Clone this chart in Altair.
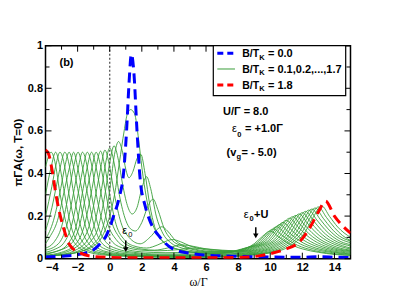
import altair as alt
import pandas as pd

# ---------------- data ----------------
x_major = [-4, -2, 0, 2, 4, 6, 8, 10, 12, 14]
x_minor = [-3, -1, 1, 3, 5, 7, 9, 11, 13, 15]
y_major = [0, 0.2, 0.4, 0.6, 0.8, 1.0]
y_minor = [0.1, 0.3, 0.5, 0.7, 0.9]

blue_b00 = [(-4, 0.008), (-3, 0.012), (-2, 0.019), (-1.6, 0.025), (-1.0, 0.042), (-0.6, 0.07),
            (-0.2, 0.11), (0.24, 0.2), (0.6, 0.29), (0.86, 0.4), (1.05, 0.6), (1.2, 0.82),
            (1.35, 0.96), (1.5, 0.88), (1.7, 0.6), (1.9, 0.37), (2.2, 0.25), (2.52, 0.175),
            (3.14, 0.1), (3.96, 0.045), (5, 0.025), (6, 0.017), (8, 0.011), (10, 0.008),
            (12, 0.007), (13, 0.009), (14, 0.007), (15, 0.005)]

red_b18 = [(-4, 0.51), (-3.8, 0.49), (-3.6, 0.42), (-3.3, 0.28), (-2.9, 0.15), (-2.45, 0.06),
           (-1.85, 0.027), (-1.2, 0.012), (0, 0.006), (2, 0.004), (5, 0.004), (8, 0.006),
           (9.2, 0.012), (10.1, 0.025), (10.85, 0.042), (11.9, 0.085), (12.5, 0.15),
           (13.0, 0.22), (13.45, 0.27), (14.0, 0.2), (14.5, 0.155), (15, 0.12)]

g01 = [(-4,0.012),(-3,0.018),(-2,0.03),(-1,0.06),(-0.5,0.1),(0,0.2),(0.3,0.3),(0.6,0.45),(0.9,0.6),(1.1,0.68),(1.3,0.7),(1.55,0.68),(1.8,0.56),(2.0,0.43),(2.3,0.28),(2.6,0.18),(3.0,0.11),(3.5,0.07),(4.0,0.05),(5.0,0.032),(6.0,0.025),(7.0,0.025),(8.0,0.038),(9.0,0.07),(9.5,0.104),(10.0,0.13),(10.5,0.104),(11.0,0.078),(11.5,0.059),(12.0,0.046),(13.0,0.03),(14.0,0.02),(15.0,0.015)]
g02 = [(-4,0.012),(-3,0.018),(-2,0.03),(-1,0.07),(-0.5,0.13),(-0.2,0.22),(0.05,0.35),(0.3,0.49),(0.55,0.55),(0.8,0.5),(1.0,0.42),(1.2,0.38),(1.45,0.41),(1.7,0.47),(1.94,0.49),(2.2,0.4),(2.5,0.25),(2.8,0.15),(3.2,0.09),(3.7,0.06),(4.5,0.04),(5.5,0.028),(6.5,0.024),(7.2,0.028),(8.2,0.045),(9.2,0.075),(9.7,0.112),(10.2,0.14),(10.7,0.112),(11.2,0.084),(11.7,0.063),(12.2,0.049),(13.2,0.031),(14.2,0.021),(15,0.017)]
g03 = [(-4,0.012),(-3,0.018),(-2,0.035),(-1.2,0.08),(-0.7,0.15),(-0.3,0.3),(0.0,0.45),(0.27,0.53),(0.55,0.46),(0.8,0.35),(1.1,0.25),(1.4,0.21),(1.7,0.24),(2.0,0.33),(2.3,0.385),(2.55,0.33),(2.9,0.2),(3.3,0.12),(3.8,0.075),(4.5,0.05),(5.5,0.033),(6.5,0.027),(7.4,0.03),(8.4,0.048),(9.4,0.08),(9.9,0.12),(10.4,0.15),(10.9,0.12),(11.4,0.09),(11.9,0.068),(12.4,0.053),(13.4,0.034),(14.4,0.024),(15,0.02)]
g04 = [(-4,0.013),(-3,0.02),(-2,0.045),(-1.5,0.075),(-1,0.15),(-0.5,0.33),(-0.25,0.45),(0,0.52),(0.3,0.44),(0.6,0.3),(1.0,0.18),(1.3,0.14),(1.6,0.13),(2.0,0.17),(2.4,0.25),(2.7,0.28),(3.0,0.23),(3.4,0.14),(3.9,0.085),(4.5,0.06),(5.5,0.038),(6.5,0.03),(7.6,0.032),(8.6,0.05),(9.6,0.085),(10.1,0.128),(10.6,0.16),(11.1,0.128),(11.6,0.096),(12.1,0.072),(12.6,0.056),(13.6,0.036),(14.6,0.025),(15,0.022)]
g05 = [(-4,0.015),(-3,0.025),(-2.3,0.045),(-1.8,0.075),(-1.3,0.15),(-0.8,0.33),(-0.55,0.43),(-0.3,0.51),(0.0,0.43),(0.3,0.3),(0.7,0.17),(1.2,0.1),(1.9,0.07),(2.5,0.1),(3.0,0.14),(3.25,0.15),(3.6,0.13),(4.1,0.085),(4.8,0.055),(5.5,0.042),(6.5,0.033),(7.8,0.034),(8.8,0.052),(9.8,0.09),(10.3,0.136),(10.8,0.17),(11.3,0.136),(11.8,0.102),(12.3,0.077),(12.8,0.06),(13.8,0.038),(15,0.026)]
g06 = [(-4,0.017),(-3,0.03),(-2.1,0.07),(-1.6,0.15),(-1.1,0.33),(-0.85,0.43),(-0.57,0.505),(-0.3,0.43),(0.0,0.3),(0.4,0.16),(0.9,0.09),(1.5,0.06),(2.3,0.05),(3.0,0.065),(3.6,0.085),(3.9,0.09),(4.4,0.08),(5.0,0.06),(5.8,0.044),(6.8,0.036),(8.0,0.036),(9.0,0.053),(10.0,0.094),(10.5,0.144),(11.0,0.18),(11.5,0.144),(12.0,0.108),(12.5,0.081),(13.0,0.063),(14.0,0.04),(15,0.03)]
g07 = [(-4,0.02),(-3.3,0.035),(-2.4,0.07),(-1.9,0.15),(-1.4,0.33),(-1.1,0.43),(-0.85,0.5),(-0.55,0.43),(-0.3,0.33),(0.1,0.18),(0.6,0.1),(1.2,0.06),(2.0,0.045),(2.8,0.04),(3.6,0.05),(4.5,0.065),(5.2,0.058),(6.0,0.046),(7.0,0.038),(8.2,0.036),(9.2,0.055),(10.2,0.099),(10.7,0.152),(11.2,0.19),(11.7,0.152),(12.2,0.114),(12.7,0.086),(13.2,0.066),(14.2,0.042),(15,0.034)]
g08 = [(-4,0.025),(-3.1,0.04),(-2.6,0.07),(-2.1,0.15),(-1.65,0.33),(-1.4,0.43),(-1.13,0.5),(-0.85,0.43),(-0.6,0.33),(-0.15,0.17),(0.4,0.09),(1.0,0.055),(2.0,0.04),(3.0,0.037),(4.2,0.042),(5.2,0.05),(6.0,0.046),(7.0,0.04),(8.4,0.036),(9.4,0.056),(10.4,0.102),(10.9,0.158),(11.4,0.197),(11.9,0.158),(12.4,0.118),(12.9,0.089),(13.4,0.069),(14.4,0.043),(15,0.037)]
g09 = [(-4,0.03),(-3.4,0.045),(-2.9,0.07),(-2.4,0.15),(-1.9,0.33),(-1.65,0.43),(-1.4,0.5),(-1.1,0.43),(-0.9,0.33),(-0.4,0.16),(0.1,0.085),(0.8,0.05),(2.0,0.032),(3.5,0.028),(5.0,0.03),(6.5,0.032),(7.6,0.032),(8.6,0.035),(9.6,0.056),(10.6,0.106),(11.1,0.162),(11.6,0.203),(12.1,0.162),(12.6,0.122),(13.1,0.091),(13.6,0.071),(14.6,0.045),(15,0.04)]
g10 = [(-4,0.04),(-3.2,0.07),(-2.7,0.15),(-2.2,0.33),(-1.95,0.43),(-1.7,0.5),(-1.4,0.43),(-1.2,0.33),(-0.7,0.15),(-0.2,0.075),(0.5,0.045),(1.5,0.03),(3.0,0.022),(5.0,0.022),(6.5,0.025),(7.8,0.028),(8.8,0.034),(9.8,0.056),(10.8,0.109),(11.3,0.168),(11.8,0.21),(12.3,0.168),(12.8,0.126),(13.3,0.095),(13.8,0.074),(15,0.045)]
g11 = [(-4,0.05),(-3.5,0.075),(-3.0,0.15),(-2.5,0.33),(-2.25,0.43),(-1.97,0.5),(-1.7,0.43),(-1.45,0.33),(-0.95,0.15),(-0.45,0.07),(0.3,0.04),(1.5,0.025),(3.0,0.018),(5.0,0.018),(6.5,0.02),(8.0,0.025),(9.0,0.033),(10.0,0.056),(11.0,0.112),(11.5,0.173),(12.0,0.216),(12.5,0.173),(13.0,0.13),(13.5,0.097),(14.0,0.076),(15,0.05)]
g12 = [(-4,0.07),(-3.75,0.1),(-3.25,0.18),(-2.8,0.33),(-2.5,0.43),(-2.25,0.5),(-2.0,0.43),(-1.75,0.33),(-1.25,0.15),(-0.75,0.07),(0.0,0.038),(1.2,0.022),(3.0,0.015),(5.0,0.015),(6.5,0.017),(8.2,0.024),(9.2,0.032),(10.2,0.057),(11.2,0.115),(11.7,0.178),(12.2,0.222),(12.7,0.178),(13.2,0.133),(13.7,0.1),(14.2,0.078),(15,0.06)]
g13 = [(-4,0.09),(-3.5,0.18),(-3.05,0.33),(-2.8,0.43),(-2.53,0.5),(-2.25,0.43),(-2.0,0.33),(-1.5,0.15),(-1.0,0.07),(-0.3,0.035),(1.0,0.02),(3.0,0.013),(5.0,0.012),(7.0,0.014),(8.4,0.022),(9.4,0.032),(10.4,0.058),(11.4,0.119),(11.9,0.182),(12.4,0.228),(12.9,0.182),(13.4,0.137),(13.9,0.103),(14.4,0.08),(15,0.066)]
g14 = [(-4,0.13),(-3.6,0.24),(-3.3,0.35),(-3.05,0.44),(-2.8,0.5),(-2.5,0.43),(-2.3,0.33),(-1.8,0.15),(-1.3,0.07),(-0.5,0.033),(1.0,0.017),(3.0,0.011),(5.0,0.01),(7.0,0.012),(8.6,0.021),(9.6,0.031),(10.6,0.058),(11.6,0.121),(12.1,0.186),(12.6,0.233),(13.1,0.186),(13.6,0.14),(14.1,0.105),(15,0.075)]
g15 = [(-4,0.2),(-3.6,0.34),(-3.35,0.44),(-3.1,0.5),(-2.8,0.43),(-2.6,0.33),(-2.1,0.15),(-1.6,0.07),(-0.8,0.032),(0.5,0.017),(2.5,0.01),(5.0,0.008),(7.0,0.01),(8.8,0.02),(9.8,0.03),(10.8,0.058),(11.8,0.124),(12.3,0.19),(12.8,0.238),(13.3,0.19),(13.8,0.143),(14.3,0.107),(15,0.083)]
g16 = [(-4,0.3),(-3.65,0.43),(-3.37,0.5),(-3.1,0.43),(-2.87,0.33),(-2.4,0.15),(-1.9,0.07),(-1.0,0.03),(0.5,0.015),(2.5,0.009),(5.0,0.007),(7.0,0.009),(9.0,0.02),(10.0,0.03),(11.0,0.058),(12.0,0.126),(12.5,0.194),(13.0,0.243),(13.5,0.194),(14.0,0.146),(14.5,0.109),(15,0.085)]
g17 = [(-4,0.43),(-3.65,0.5),(-3.35,0.43),(-3.15,0.33),(-2.65,0.15),(-2.15,0.07),(-1.3,0.03),(0.0,0.015),(2.5,0.008),(5.0,0.006),(7.0,0.008),(9.2,0.02),(10.2,0.03),(11.2,0.058),(12.2,0.129),(12.7,0.198),(13.2,0.248),(13.7,0.198),(14.2,0.149),(15,0.1)]

greens = [g01, g02, g03, g04, g05, g06, g07, g08, g09, g10, g11, g12, g13, g14, g15, g16, g17]

# ---------------- build tables ----------------
W, H = 305, 213
FONT = "Liberation Sans"


def table(pts, name):
    return pd.DataFrame([{"curve": name, "i": i, "w": w, "a": a} for i, (w, a) in enumerate(pts)])


green_df = pd.concat([table(p, f"B{k + 1:02d}") for k, p in enumerate(greens)], ignore_index=True)
blue_df = table(blue_b00, "B00")
red_df = table(red_b18, "B18")

x_axis = alt.Axis(values=x_major, format="d", grid=False, ticks=False, tickSize=0, domain=False,
                  labelFont=FONT, labelFontWeight="bold", labelFontSize=11, labelColor="black",
                  labelPadding=3, title="ω/Γ", titleFont="Liberation Serif", titleFontWeight="normal",
                  titleFontSize=12, titleColor="black", titlePadding=4)
y_axis = alt.Axis(values=y_major, format="~g", grid=False, ticks=False, tickSize=0, domain=False,
                  labelFont=FONT, labelFontWeight="bold", labelFontSize=11, labelColor="black",
                  labelPadding=3, title="πΓA(ω, T=0)", titleFont=FONT, titleFontWeight="bold",
                  titleFontSize=11.5, titleColor="black", titlePadding=4)
xs = alt.Scale(domain=[-4, 15], nice=False, zero=False)
ys = alt.Scale(domain=[0, 1], nice=False, zero=False)
X = alt.X("w:Q", scale=xs, axis=x_axis)
Y = alt.Y("a:Q", scale=ys, axis=y_axis)

one = pd.DataFrame({"d": [0]})

green = alt.Chart(green_df).mark_line(interpolate="monotone", color="#3a9e3a", strokeWidth=0.9, clip=True).encode(
    x=X, y=Y, detail="curve:N", order="i:Q")
blue = alt.Chart(blue_df).mark_line(interpolate="monotone", color="#0000ff", strokeWidth=3,
                                    strokeDash=[10, 6], clip=True).encode(x=X, y=Y, order="i:Q")
red = alt.Chart(red_df).mark_line(interpolate="monotone", color="#ff0000", strokeWidth=3,
                                  strokeDash=[10, 6], clip=True).encode(x=X, y=Y, order="i:Q")

zero_line = alt.Chart(pd.DataFrame({"w": [0]})).mark_rule(color="#555555", strokeDash=[2, 2], strokeWidth=1.3).encode(x=X)

# inward ticks
def xticks(vals, ln):
    d = pd.DataFrame({"w": vals})
    b = alt.Chart(d).mark_rule(color="black", strokeWidth=1).encode(x=X, y=alt.value(H), y2=alt.value(H - ln))
    t = alt.Chart(d).mark_rule(color="black", strokeWidth=1).encode(x=X, y=alt.value(0), y2=alt.value(ln))
    return b + t


def yticks(vals, ln):
    d = pd.DataFrame({"a": vals})
    l = alt.Chart(d).mark_rule(color="black", strokeWidth=1).encode(y=Y, x=alt.value(0), x2=alt.value(ln))
    r = alt.Chart(d).mark_rule(color="black", strokeWidth=1).encode(y=Y, x=alt.value(W), x2=alt.value(W - ln))
    return l + r


ticks = xticks(x_major, 6) + xticks(x_minor, 4) + yticks(y_major, 6) + yticks(y_minor, 4)

# legend (drawn by hand for the subscripts)
leg_box = alt.Chart(one).mark_rect(fill="white", stroke="black", strokeWidth=1.2).encode(
    x=alt.value(167.8), x2=alt.value(300.2), y=alt.value(0), y2=alt.value(50))
leg_rows = [("#0000ff", 3, [6, 4], 7.6, "= 0.0"),
            ("#3a9e3a", 1, None, 23.3, "= 0.1,0.2,...,1.7"),
            ("#ff0000", 3, [6, 4], 39.3, "= 1.8")]
legend = leg_box
for col, sw, dash, yc, rest in leg_rows:
    kw = dict(color=col, strokeWidth=sw)
    if dash:
        kw["strokeDash"] = dash
    legend += alt.Chart(one).mark_rule(**kw).encode(x=alt.value(171.8), x2=alt.value(189.5), y=alt.value(yc))
    legend += alt.Chart(one).mark_text(text="B/T", align="left", baseline="alphabetic", font=FONT,
                                       fontWeight="bold", fontSize=10.5).encode(x=alt.value(196.8), y=alt.value(yc + 3.9))
    legend += alt.Chart(one).mark_text(text="K", align="left", baseline="alphabetic", font=FONT,
                                       fontWeight="bold", fontSize=7.5).encode(x=alt.value(213.8), y=alt.value(yc + 6.3))
    legend += alt.Chart(one).mark_text(text=rest, align="left", baseline="alphabetic", font=FONT,
                                       fontWeight="bold", fontSize=11).encode(x=alt.value(222.5), y=alt.value(yc + 3.9))


def ptxt(s, x, y, size=11, weight="bold", align="left", font=FONT):
    return alt.Chart(one).mark_text(text=s, align=align, baseline="alphabetic", font=font,
                                    fontWeight=weight, fontSize=size).encode(x=alt.value(x), y=alt.value(y))


labels = (ptxt("(b)", 21, 20.8, align="center")
          + ptxt("U/Γ = 8.0", 177.5, 69.3)
          + ptxt("ε", 186.5, 86.3, weight="normal") + ptxt("0", 191.8, 91.5, size=7.5)
          + ptxt("= +1.0Γ", 199.5, 86.3)
          + ptxt("(v", 181, 110.3) + ptxt("g", 191, 113, size=7.5) + ptxt("= - 5.0)", 196, 110.3))

# level markers (ε0 = 1, ε0+U = 9)
def dtxt(s, w, a, dx, dy=0, size=11, weight="normal"):
    return alt.Chart(pd.DataFrame({"w": [w], "a": [a]})).mark_text(
        text=s, align="center", baseline="alphabetic", dx=dx, dy=dy, font=FONT,
        fontWeight=weight, fontSize=size).encode(x=X, y=Y)


def arrow(w, a_top, a_tip):
    d = pd.DataFrame({"w": [w], "a": [a_top], "a2": [a_tip + 0.012]})
    shaft = alt.Chart(d).mark_rule(color="black", strokeWidth=1.5).encode(x=X, y=Y, y2=alt.Y2("a2:Q"))
    head = alt.Chart(pd.DataFrame({"w": [w], "a": [a_tip + 0.012]})).mark_point(
        shape="triangle-down", filled=True, size=30, color="black", opacity=1).encode(x=X, y=Y)
    return shaft + head


markers = (dtxt("ε", 1, 0.116, dx=-1) + dtxt("0", 1, 0.116, dx=4.5, dy=3.5, size=7.5)
           + arrow(1, 0.085, 0.03)
           + dtxt("ε", 9.1, 0.193, dx=-9.5) + dtxt("0", 9.1, 0.193, dx=-4.3, dy=3.5, size=7.5, weight="bold")
           + dtxt("+U", 9.1, 0.193, dx=5.5, weight="bold")
           + arrow(9.1, 0.148, 0.095))

chart = (green + blue + red + zero_line + ticks + legend + labels + markers).properties(
    width=W, height=H,
    padding={"left": 37.5, "top": 37.7, "right": 36, "bottom": 38},
    autosize=alt.AutoSizeParams(type="none"),
    background="white",
).configure_view(stroke="black", strokeWidth=1.5)

chart.save("out.html", embed_options={"renderer": "svg", "actions": False})
